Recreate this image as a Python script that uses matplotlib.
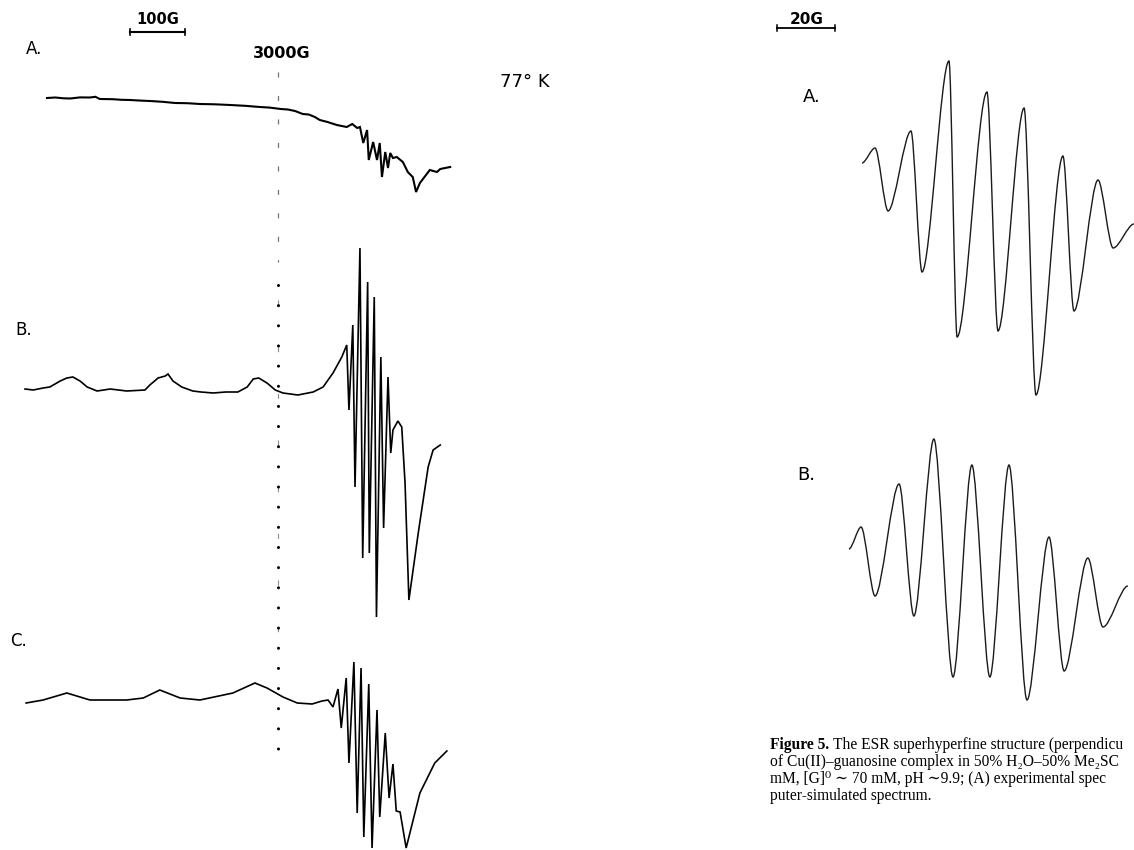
import matplotlib
matplotlib.use("Agg")
import matplotlib.pyplot as plt
from matplotlib.path import Path
from matplotlib.patches import PathPatch

plt.rcParams['lines.scale_dashes'] = False

W, H = 1134, 850

# 77 K spectra: field in gauss, derivative signal (arb. units, up = positive)
field_a = [2580, 2595, 2610, 2622, 2640, 2658, 2668, 2676, 2700, 2715, 2731, 2750,
           2767, 2790, 2813, 2835, 2858, 2885, 2913, 2940, 2967, 2985, 3005, 3018,
           3031, 3045, 3056, 3067, 3076, 3090, 3107, 3125, 3135, 3144, 3149, 3155,
           3162, 3165, 3173, 3180, 3185, 3189, 3195, 3200, 3204, 3209, 3216, 3227,
           3236, 3245, 3251, 3258, 3276, 3289, 3295, 3313]
signal_a = [0, 0.5, -0.3, -0.5, 0.6, 0.5, 1.2, -1, -1.2, -1.8, -2, -2.6,
            -3, -3.8, -5, -5.2, -6, -6.3, -7, -7.8, -9, -9.6, -11, -11.5,
            -13, -16, -16.5, -19, -22, -24, -27, -29, -26, -30, -29, -45,
            -32, -62, -44, -62, -45, -79, -54, -70, -55, -60, -59, -64,
            -74, -79, -94, -85, -72, -74, -71, -69]

field_b = [2540, 2555, 2573, 2585, 2604, 2616, 2627, 2640, 2653, 2671, 2695, 2710,
           2725, 2758, 2767, 2782, 2795, 2800, 2809, 2825, 2845, 2860, 2882, 2905,
           2927, 2944, 2955, 2965, 2980, 2995, 3009, 3036, 3064, 3082, 3100, 3116,
           3125, 3129, 3136, 3140, 3149, 3154, 3163, 3166, 3175, 3179, 3187, 3192,
           3200, 3205, 3209, 3218, 3225, 3231, 3238, 3255, 3273, 3282, 3295]
signal_b = [1, 0, 2, 3, 9, 12, 13, 9, 3, -1, 1, 0,
            -1, 0, 5, 12, 14, 16, 9, 3, -1, -2, -3, -2,
            -2, 3, 11, 12, 7, 0, -3, -5, -2, 3, 17, 33,
            45, -20, 65, -97, 142, -168, 108, -163, 93, -227, 33, -138,
            13, -63, -40, -31, -37, -93, -210, -143, -77, -60, -55]

field_c = [2542, 2573, 2616, 2658, 2725, 2755, 2785, 2822, 2858, 2918, 2958, 2980,
           3009, 3035, 3062, 3080, 3091, 3100, 3109, 3115, 3124, 3129, 3138, 3144,
           3151, 3156, 3165, 3171, 3180, 3185, 3195, 3202, 3209, 3215, 3222, 3233,
           3258, 3285, 3307]
signal_c = [-3, 0, 7, 0, 0, 2, 10, 2, 0, 7, 17, 12,
            3, -3, -4, -1, 0, -7, 11, -28, 22, -63, 38, -113,
            32, -137, 16, -148, -10, -117, -33, -98, -64, -111, -112, -148,
            -93, -63, -51]

# superhyperfine pattern: field offset in gauss, extrema of the derivative
shf_field_exp = [29.3, 33.8, 38.3, 46.2, 50.0, 59.3, 62.1, 72.4, 76.2, 85.2,
                 89.3, 98.6, 102.4, 110.7, 115.9, 123.1]
shf_signal_exp = [37, 52, -11, 69, -72, 139, -137, 108, -131, 92,
                  -195, 44, -111, 20, -48, -24]
shf_field_sim = [24.8, 29.0, 33.8, 42.1, 47.2, 54.1, 60.7, 67.2, 73.4, 80.0,
                 86.2, 93.8, 99.0, 107.2, 112.4, 121.0]
shf_signal_sim = [31, 53, -16, 96, -36, 141, -97, 115, -97, 115,
                  -120, 43, -91, 22, -47, -6]

fig = plt.figure(figsize=(W / 100, H / 100), dpi=100)
fig.patch.set_facecolor('white')


def fx(px):
    return px / W


def fy(py):
    return 1 - py / H


# left panel: wide sweep
ax_l = fig.add_axes([0, 0, 470 / W, 1])
ax_l.set_xlim(2494.5, 3349.1)
ax_l.set_ylim(-850, 0)
ax_l.axis('off')

for f, s, base, lw in [(field_a, signal_a, -98, 1.5),
                       (field_b, signal_b, -390, 1.2),
                       (field_c, signal_c, -700, 1.2)]:
    ax_l.plot(f, [base + v for v in s], color='black', lw=lw,
              solid_joinstyle='miter')

# 3000 G marker
ax_l.plot([3000, 3000], [-72, -262], color='0.45', lw=0.9, dashes=(3.6, 13.3))
ax_l.plot([3000, 3000], [-300, -640], color='0.55', lw=0.8, dashes=(3.6, 30))
ax_l.plot([3000, 3000], [-285, -752], color='black', lw=2.2,
          dashes=(0.01, 14.5), dash_capstyle='round')

# 100 G scale bar
ax_l.plot([2731, 2831], [-32, -32], color='black', lw=1.5)
ax_l.plot([2731, 2731], [-28.5, -35], color='black', lw=1.2)
ax_l.plot([2831, 2831], [-28.5, -35], color='black', lw=1.2)

# right panel: superhyperfine region
ax_r = fig.add_axes([740 / W, 0, 394 / W, 1])
ax_r.set_xlim(-12.76, 123.1)
ax_r.set_ylim(-850, 0)
ax_r.axis('off')


def smooth_path(xs, ys, k=0.3):
    verts = [(xs[0], ys[0])]
    codes = [Path.MOVETO]
    for x0, y0, x1, y1 in zip(xs[:-1], ys[:-1], xs[1:], ys[1:]):
        dx = x1 - x0
        verts += [(x0 + k * dx, y0), (x1 - k * dx, y1), (x1, y1)]
        codes += [Path.CURVE4] * 3
    return Path(verts, codes)


for f, s, base in [(shf_field_exp, shf_signal_exp, -200),
                   (shf_field_sim, shf_signal_sim, -580)]:
    p = smooth_path(f, [base + v for v in s])
    ax_r.add_patch(PathPatch(p, fill=False, edgecolor='#1a1a1a', lw=1.0))

# 20 G scale bar
ax_r.plot([0, 20], [-28, -28], color='black', lw=1.3)
ax_r.plot([0, 0], [-25, -31], color='black', lw=1.1)
ax_r.plot([20, 20], [-25, -31], color='black', lw=1.1)

lab = dict(family='DejaVu Sans', color='black', va='center')
fig.text(fx(26), fy(49), 'A.', fontsize=12, **lab)
fig.text(fx(15), fy(330), 'B.', fontsize=12, **lab)
fig.text(fx(10), fy(641), 'C.', fontsize=12, **lab)
fig.text(fx(158), fy(19), '100G', fontsize=10.5, fontweight='bold', ha='center', **lab)
fig.text(fx(282), fy(54), '3000G', fontsize=11.5, fontweight='bold', ha='center', **lab)
fig.text(fx(500), fy(82), '77° K', fontsize=13, **lab)
fig.text(fx(807), fy(19), '20G', fontsize=11, fontweight='bold', ha='center', **lab)
fig.text(fx(803), fy(97), 'A.', fontsize=13, **lab)
fig.text(fx(797), fy(475), 'B.', fontsize=13, **lab)

# caption, as far as it runs before the page edge
serif = ['Liberation Serif', 'DejaVu Serif']
cap_size = 11.2
caption = [
    "The ESR superhyperfine structure (perpendicu",
    "of Cu(II)–guanosine complex in 50% H₂O–50% Me₂SC",
    "mM, [G]⁰ ∼ 70 mM, pH ∼9.9; (A) experimental spec",
    "puter-simulated spectrum.",
]
renderer = fig.canvas.get_renderer()
head = fig.text(fx(770), fy(749), "Figure 5.", family=serif, fontsize=cap_size,
                fontweight='bold', va='baseline', color='black')
head_w = head.get_window_extent(renderer).width
for i, line in enumerate(caption):
    x0 = 770 + (head_w + 4 if i == 0 else 0)
    fig.text(fx(x0), fy(749 + 17 * i), line, family=serif,
             fontsize=cap_size, va='baseline', color='black')

fig.savefig('out.png', dpi=100, facecolor='white')
